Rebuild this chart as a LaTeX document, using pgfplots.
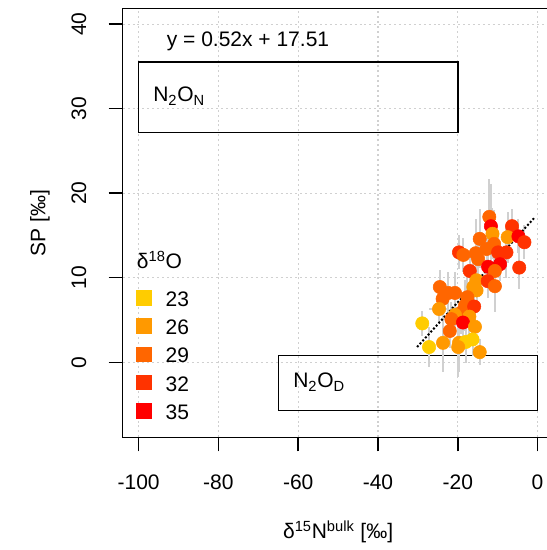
\documentclass[border=0pt]{standalone}
\usepackage{fontspec}
\setmainfont{Liberation Sans}
\usepackage{pgfplots}
\usepackage{pgfplotstable}
\pgfplotsset{compat=1.18}
\newcommand\myfont{\fontsize{15.75pt}{18.9pt}\selectfont}
\definecolor{cA}{HTML}{FFCC00}
\definecolor{cB}{HTML}{FF9900}
\definecolor{cC}{HTML}{FF6600}
\definecolor{cD}{HTML}{FF3300}
\definecolor{cE}{HTML}{FF0000}
\definecolor{errgray}{HTML}{D0D0D0}
\definecolor{gridgray}{HTML}{D0D0D0}
\pgfplotstableread{
x y ey ex c
-12.1 17.2 4.5 0 c29
-11.7 16.1 5.0 0 c35
-6.4 16.1 2.0 0 c32
-11.3 15.2 3.0 0 c26
-7.5 14.8 3.0 0 c26
-4.8 14.9 2.0 0 c35
-3.3 14.2 2.0 0 c32
-14.5 14.6 3.5 0 c29
-10.9 14.0 4.0 0 c29
-12.8 13.4 3.0 0 c29
-19.7 13.0 2.0 0 c32
-18.6 12.7 2.0 0 c29
-15.5 12.9 4.0 0 c29
-14.9 12.2 3.0 0 c29
-9.9 13.0 2.5 0 c32
-7.8 13.0 3.0 0 c32
-9.4 11.6 2.0 0 c35
-12.4 11.3 2.0 0 c35
-10.7 10.8 3.0 0 c29
-4.6 11.2 2.5 0 c32
-17.0 10.8 2.0 0 c32
-15.3 9.7 3.0 0 c26
-12.5 9.6 2.0 0 c32
-10.7 9.0 3.0 0 c29
-16.1 8.9 3.0 0 c26
-24.5 8.9 2.0 0 c29
-15.3 8.5 2.0 0 c26
-20.7 8.2 2.5 0 c29
-22.4 8.2 2.5 0 c29
-23.8 7.5 2.0 0 c29
-17.6 7.7 3.0 0 c29
-18.2 6.7 3.0 0 c29
-15.9 6.6 2.0 0 c32
-24.7 6.3 1.5 2.5 c26
-19.1 5.9 2.5 0 c29
-20.7 5.6 2.0 0 c26
-17.1 5.4 2.5 0 c26
-21.6 5.1 2.0 0 c29
-18.7 4.7 2.0 0 c35
-15.7 4.2 2.0 0 c26
-28.9 4.6 1.5 0 c23
-22.0 3.7 2.0 0 c29
-23.7 2.3 3.5 0 c26
-19.7 2.3 3.5 0 c26
-18.0 2.4 2.5 0 c23
-16.3 2.7 2.0 0 c23
-27.2 1.8 2.4 0 c23
-19.9 1.8 3.5 0 c26
-14.5 1.2 1.5 0 c26
}\data
\begin{document}
\begin{tikzpicture}
\begin{axis}[
  scale only axis,
  width=323.1pt, height=321.75pt,
  xmin=-104, xmax=4, ymin=-8.88, ymax=41.88,
  xtick={-100,-80,-60,-40,-20,0},
  xticklabels={-100,-80,-60,-40,-20,0},
  ytick={0,10,20,30,40},
  yticklabels={0,10,20,30,40},
  xtick pos=bottom, ytick pos=left,
  tick align=outside,
  major tick length=10.5pt,
  tick style={black, line width=1.1pt},
  axis line style={line width=1.1pt},
  grid=major,
  grid style={gridgray, line width=0.8pt, dash pattern=on 1.5pt off 2.2pt},
  tick label style={font=\myfont},
  xticklabel style={anchor=north, inner sep=0pt},
  yticklabel style={rotate=90, anchor=south, inner sep=0pt},
  xticklabel shift=17.3pt,
  yticklabel shift=16.6pt,
  label style={font=\myfont},
  xlabel={δ\textsuperscript{15}N\textsuperscript{bulk} [‰]},
  ylabel={SP [‰]},
  xlabel style={at={(axis description cs:0.5,-0.220)}, anchor=center},
  ylabel style={at={(axis description cs:-0.192,0.5)}, anchor=center},
  clip=true,
]
% boxes
\draw[line width=1.1pt] (axis cs:-100,27.2) rectangle (axis cs:-20,35.5);
\draw[line width=1.1pt] (axis cs:-65,-5.7) rectangle (axis cs:0,0.8);
\node[font=\myfont, anchor=base west, inner sep=0pt] at (axis cs:-96.4,30.8) {N\textsubscript{2}O\textsubscript{N}};
\node[font=\myfont, anchor=base west, inner sep=0pt] at (axis cs:-61.3,-3.0) {N\textsubscript{2}O\textsubscript{D}};
\node[font=\myfont, anchor=base west, inner sep=0pt] at (axis cs:-93.0,37.3) {y = 0.52x + 17.51};
% error bars
\addplot[only marks, mark=*, mark options={opacity=0},
  error bars/.cd, y dir=both, y explicit, x dir=both, x explicit,
  error mark=none, error bar style={errgray, line width=1.5pt}]
  table[x=x, y=y, y error=ey, x error=ex] {\data};
% points
\addplot[scatter, only marks, mark=*, mark size=5pt,
  point meta=explicit symbolic,
  scatter/classes={
    c23={mark=*, draw=cA, fill=cA},
    c26={mark=*, draw=cB, fill=cB},
    c29={mark=*, draw=cC, fill=cC},
    c32={mark=*, draw=cD, fill=cD},
    c35={mark=*, draw=cE, fill=cE}}]
  table[x=x, y=y, meta=c] {\data};
% regression line
\addplot[black, line width=1.5pt, dash pattern=on 1.5pt off 1.5pt] coordinates {(-30.2,1.80) (-0.9,17.04)};
% legend
\node[font=\myfont, anchor=base west, inner sep=0pt] at (axis cs:-100.5,11.05) {δ\textsuperscript{18}O};
\fill[cA] (axis cs:-100.6,6.69) rectangle (axis cs:-96.7,8.53);
\fill[cB] (axis cs:-100.6,3.35) rectangle (axis cs:-96.7,5.19);
\fill[cC] (axis cs:-100.6,0.00) rectangle (axis cs:-96.7,1.84);
\fill[cD] (axis cs:-100.6,-3.34) rectangle (axis cs:-96.7,-1.50);
\fill[cE] (axis cs:-100.6,-6.69) rectangle (axis cs:-96.7,-4.85);
\node[font=\myfont, anchor=base west, inner sep=0pt] at (axis cs:-93.3,6.61) {23};
\node[font=\myfont, anchor=base west, inner sep=0pt] at (axis cs:-93.3,3.27) {26};
\node[font=\myfont, anchor=base west, inner sep=0pt] at (axis cs:-93.3,-0.08) {29};
\node[font=\myfont, anchor=base west, inner sep=0pt] at (axis cs:-93.3,-3.42) {32};
\node[font=\myfont, anchor=base west, inner sep=0pt] at (axis cs:-93.3,-6.77) {35};
\coordinate (SW) at (rel axis cs:0,0);
\coordinate (NE) at (rel axis cs:1,1);
\end{axis}
\pgfresetboundingbox
\path[use as bounding box] ([shift={(-92pt,-84.5pt)}]SW) rectangle ([shift={(-5.6pt,6.2pt)}]NE);
\end{tikzpicture}
\end{document}
